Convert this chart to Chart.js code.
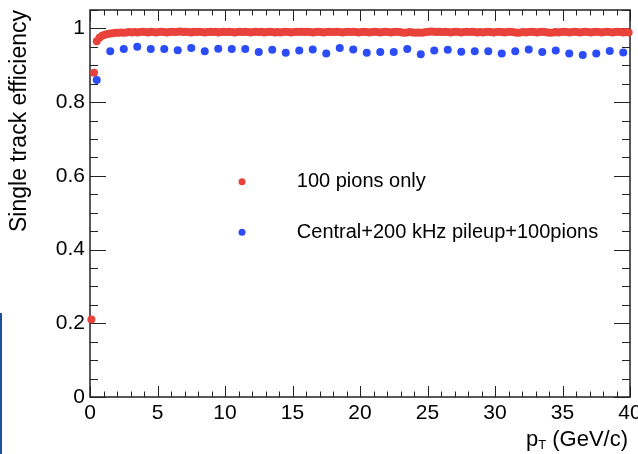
<!DOCTYPE html>
<html>
<head>
<meta charset="utf-8">
<script src="https://cdn.jsdelivr.net/npm/chart.js@4.4.1/dist/chart.umd.min.js"></script>
<style>
  html, body { margin: 0; padding: 0; background: #fff; }
  #wrap { position: relative; width: 638px; height: 454px; }
  #sideBar { position: absolute; left: 0; top: 313px; width: 2px; height: 141px; background: #1f4f9f; }
</style>
</head>
<body>
<div id="wrap">
  <canvas id="effChart" width="638" height="454"></canvas>
  <div id="sideBar"></div>
</div>
<script>
// --- data ---
const seriesLabels = ['100 pions only', 'Central+200 kHz pileup+100pions'];

// red: 0.2 GeV/c bins
const pionsX = [
  0.1, 0.3, 0.5, 0.7, 0.9, 1.1, 1.3, 1.5, 1.7, 1.9,
  2.1, 2.3, 2.5, 2.7, 2.9, 3.1, 3.3, 3.5, 3.7, 3.9,
  4.1, 4.3, 4.5, 4.7, 4.9, 5.1, 5.3, 5.5, 5.7, 5.9,
  6.1, 6.3, 6.5, 6.7, 6.9, 7.1, 7.3, 7.5, 7.7, 7.9,
  8.1, 8.3, 8.5, 8.7, 8.9, 9.1, 9.3, 9.5, 9.7, 9.9,
  10.1, 10.3, 10.5, 10.7, 10.9, 11.1, 11.3, 11.5, 11.7, 11.9,
  12.1, 12.3, 12.5, 12.7, 12.9, 13.1, 13.3, 13.5, 13.7, 13.9,
  14.1, 14.3, 14.5, 14.7, 14.9, 15.1, 15.3, 15.5, 15.7, 15.9,
  16.1, 16.3, 16.5, 16.7, 16.9, 17.1, 17.3, 17.5, 17.7, 17.9,
  18.1, 18.3, 18.5, 18.7, 18.9, 19.1, 19.3, 19.5, 19.7, 19.9,
  20.1, 20.3, 20.5, 20.7, 20.9, 21.1, 21.3, 21.5, 21.7, 21.9,
  22.1, 22.3, 22.5, 22.7, 22.9, 23.1, 23.3, 23.5, 23.7, 23.9,
  24.1, 24.3, 24.5, 24.7, 24.9, 25.1, 25.3, 25.5, 25.7, 25.9,
  26.1, 26.3, 26.5, 26.7, 26.9, 27.1, 27.3, 27.5, 27.7, 27.9,
  28.1, 28.3, 28.5, 28.7, 28.9, 29.1, 29.3, 29.5, 29.7, 29.9,
  30.1, 30.3, 30.5, 30.7, 30.9, 31.1, 31.3, 31.5, 31.7, 31.9,
  32.1, 32.3, 32.5, 32.7, 32.9, 33.1, 33.3, 33.5, 33.7, 33.9,
  34.1, 34.3, 34.5, 34.7, 34.9, 35.1, 35.3, 35.5, 35.7, 35.9,
  36.1, 36.3, 36.5, 36.7, 36.9, 37.1, 37.3, 37.5, 37.7, 37.9,
  38.1, 38.3, 38.5, 38.7, 38.9, 39.1, 39.3, 39.5, 39.7, 39.9
];
const pionsEff = [
  0.210, 0.880, 0.965, 0.975, 0.980, 0.983, 0.985, 0.986, 0.987, 0.988,
  0.988, 0.989, 0.988, 0.989, 0.990, 0.989, 0.990, 0.989, 0.990, 0.991,
  0.990, 0.989, 0.991, 0.990, 0.989, 0.990, 0.991, 0.990, 0.989, 0.990,
  0.991, 0.990, 0.991, 0.992, 0.990, 0.991, 0.990, 0.989, 0.991, 0.990,
  0.991, 0.990, 0.989, 0.990, 0.991, 0.990, 0.991, 0.989, 0.990, 0.991,
  0.990, 0.991, 0.990, 0.989, 0.990, 0.991, 0.990, 0.991, 0.990, 0.989,
  0.990, 0.991, 0.990, 0.991, 0.989, 0.990, 0.991, 0.990, 0.989, 0.990,
  0.989, 0.990, 0.991, 0.990, 0.989, 0.990, 0.991, 0.990, 0.991, 0.990,
  0.991, 0.990, 0.989, 0.990, 0.991, 0.990, 0.989, 0.990, 0.991, 0.990,
  0.990, 0.991, 0.990, 0.989, 0.990, 0.991, 0.990, 0.991, 0.990, 0.989,
  0.990, 0.991, 0.990, 0.989, 0.990, 0.991, 0.990, 0.989, 0.990, 0.991,
  0.990, 0.989, 0.990, 0.991, 0.990, 0.989, 0.988, 0.989, 0.990, 0.989,
  0.988, 0.989, 0.988, 0.989, 0.990, 0.991, 0.992, 0.991, 0.990, 0.991,
  0.990, 0.991, 0.990, 0.989, 0.990, 0.991, 0.990, 0.989, 0.990, 0.991,
  0.990, 0.991, 0.990, 0.989, 0.990, 0.989, 0.990, 0.991, 0.990, 0.989,
  0.990, 0.991, 0.990, 0.989, 0.990, 0.991, 0.990, 0.989, 0.988, 0.989,
  0.990, 0.989, 0.990, 0.991, 0.990, 0.989, 0.990, 0.991, 0.990, 0.989,
  0.988, 0.989, 0.990, 0.989, 0.990, 0.991, 0.990, 0.989, 0.990, 0.991,
  0.990, 0.989, 0.990, 0.991, 0.990, 0.989, 0.990, 0.991, 0.990, 0.989,
  0.990, 0.991, 0.990, 0.989, 0.990, 0.991, 0.990, 0.989, 0.990, 0.989
];

// blue: 1 GeV/c bins
const pileupX = [
  0.5, 1.5, 2.5, 3.5, 4.5, 5.5, 6.5, 7.5, 8.5, 9.5,
  10.5, 11.5, 12.5, 13.5, 14.5, 15.5, 16.5, 17.5, 18.5, 19.5,
  20.5, 21.5, 22.5, 23.5, 24.5, 25.5, 26.5, 27.5, 28.5, 29.5,
  30.5, 31.5, 32.5, 33.5, 34.5, 35.5, 36.5, 37.5, 38.5, 39.5
];
const pileupEff = [
  0.860, 0.938, 0.944, 0.950, 0.944, 0.944, 0.941, 0.947, 0.938, 0.945,
  0.944, 0.944, 0.936, 0.942, 0.934, 0.940, 0.943, 0.932, 0.947, 0.943,
  0.934, 0.936, 0.936, 0.944, 0.930, 0.940, 0.942, 0.937, 0.938, 0.938,
  0.932, 0.938, 0.943, 0.936, 0.940, 0.932, 0.928, 0.932, 0.939, 0.935
];

const xTickValues = [0, 5, 10, 15, 20, 25, 30, 35, 40];
const yTickValues = [0, 0.2, 0.4, 0.6, 0.8, 1];

const RED = '#e9423b';
const BLUE = '#2b4cf6';
const FONT = '"Liberation Sans", Arial, Helvetica, sans-serif';

function toPoints(xs, ys) {
  return xs.map((v, i) => ({ x: v, y: ys[i] }));
}

// frame with inward ticks on all four sides (ROOT look)
const frameTicks = {
  id: 'frameTicks',
  beforeDatasetsDraw(chart) {
    const { ctx, chartArea: a, scales: { x, y } } = chart;
    ctx.save();
    ctx.strokeStyle = '#222';
    ctx.lineWidth = 1.5;
    ctx.strokeRect(a.left, a.top, a.right - a.left, a.bottom - a.top);

    ctx.lineWidth = 1;
    ctx.beginPath();
    for (let v = 0; v <= 40; v++) {
      const px = Math.round(x.getPixelForValue(v)) + 0.5;
      const len = v % 5 === 0 ? 11 : 5.5;
      ctx.moveTo(px, a.bottom); ctx.lineTo(px, a.bottom - len);
      ctx.moveTo(px, a.top); ctx.lineTo(px, a.top + len);
    }
    for (let i = 0; i <= 21; i++) {
      const py = Math.round(y.getPixelForValue(i * 0.05)) + 0.5;
      const len = i % 4 === 0 ? 16 : 8;
      ctx.moveTo(a.left, py); ctx.lineTo(a.left + len, py);
      ctx.moveTo(a.right, py); ctx.lineTo(a.right - len, py);
    }
    ctx.stroke();
    ctx.restore();
  },
  afterDraw(chart) {
    const { ctx, chartArea: a } = chart;
    const w = a.right - a.left, h = a.bottom - a.top;
    ctx.save();

    // legend
    const colors = [RED, BLUE];
    const rows = [0.444, 0.574];
    ctx.font = '20px ' + FONT;
    ctx.textBaseline = 'middle';
    seriesLabels.forEach((lab, i) => {
      const ly = a.top + rows[i] * h;
      ctx.fillStyle = colors[i];
      ctx.beginPath();
      ctx.arc(a.left + 0.2815 * w, ly, 3.5, 0, Math.PI * 2);
      ctx.fill();
      ctx.fillStyle = '#000';
      ctx.fillText(lab, a.left + 0.383 * w, ly);
    });

    // x title p_T (GeV/c), right aligned
    const big = '22px ' + FONT, small = '13px ' + FONT;
    ctx.textBaseline = 'alphabetic';
    ctx.fillStyle = '#000';
    ctx.font = big;
    const wp = ctx.measureText('p').width;
    const wr = ctx.measureText(' (GeV/c)').width;
    ctx.font = small;
    const wt = ctx.measureText('T').width;
    let tx = a.right - 2 - (wp + wt + wr);
    const base = 446;
    ctx.font = big;
    ctx.fillText('p', tx, base);
    tx += wp;
    ctx.font = small;
    ctx.fillText('T', tx, base + 3);
    tx += wt;
    ctx.font = big;
    ctx.fillText(' (GeV/c)', tx, base);
    ctx.restore();
  }
};

const chart = new Chart(document.getElementById('effChart'), {
  type: 'scatter',
  data: {
    datasets: [
      {
        label: seriesLabels[0],
        data: toPoints(pionsX, pionsEff),
        backgroundColor: RED, borderWidth: 0,
        pointRadius: 4, clip: false, order: 2
      },
      {
        label: seriesLabels[1],
        data: toPoints(pileupX, pileupEff),
        backgroundColor: BLUE, borderWidth: 0,
        pointRadius: 4, clip: false, order: 1
      }
    ]
  },
  options: {
    responsive: false, animation: false, devicePixelRatio: 1,
    layout: { padding: { top: 10, right: 8, left: 0, bottom: 0 } },
    plugins: { legend: { display: false }, tooltip: { enabled: false } },
    scales: {
      x: {
        type: 'linear', min: 0, max: 40,
        grid: { display: false, drawTicks: false }, border: { display: false },
        afterBuildTicks: s => { s.ticks = xTickValues.map(v => ({ value: v })); },
        ticks: { color: '#000', font: { size: 21, family: FONT }, padding: 4, maxRotation: 0 },
        afterFit: s => { s.height = 57; s.paddingLeft = 0; s.paddingRight = 0; }
      },
      y: {
        min: 0, max: 1.05,
        grid: { display: false, drawTicks: false }, border: { display: false },
        afterBuildTicks: s => { s.ticks = yTickValues.map(v => ({ value: v })); },
        ticks: {
          color: '#000', font: { size: 21, family: FONT }, padding: 5,
          callback: v => String(Math.round(v * 10) / 10)
        },
        title: {
          display: true, text: 'Single track efficiency', align: 'end',
          color: '#000', font: { size: 23, family: FONT }, padding: { top: 6, bottom: 0 }
        },
        afterFit: s => { s.width = 90; s.paddingTop = 0; s.paddingBottom = 0; }
      }
    }
  },
  plugins: [frameTicks]
});
</script>
</body>
</html>
